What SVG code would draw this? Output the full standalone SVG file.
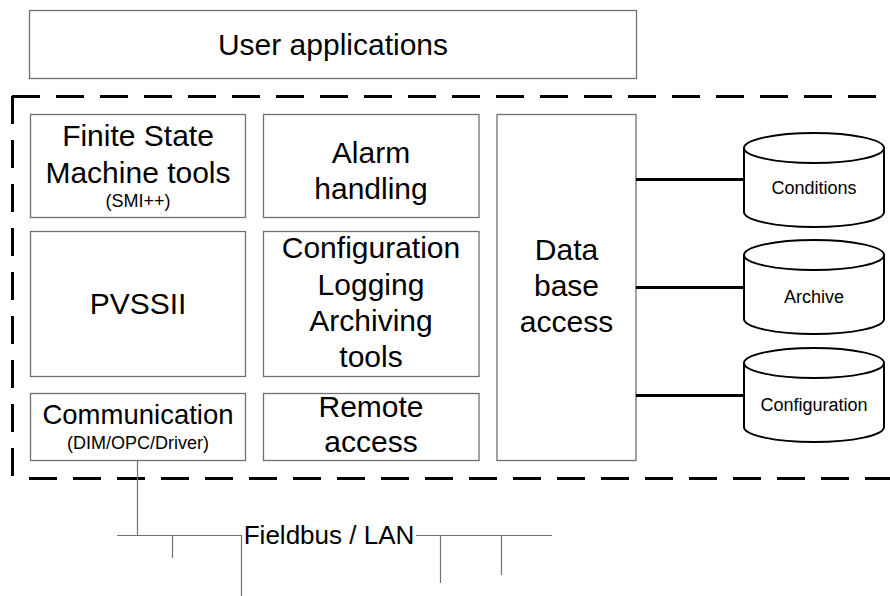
<svg xmlns="http://www.w3.org/2000/svg" width="890" height="596" viewBox="0 0 890 596">
<style>
  .box { fill: #ffffff; stroke: #707070; stroke-width: 1.3; }
  .t { font-family: "Liberation Sans", Arial, sans-serif; font-size: 30px; fill: #000; text-anchor: middle; }
  .s { font-family: "Liberation Sans", Arial, sans-serif; font-size: 18px; fill: #000; text-anchor: middle; }
  .db { font-family: "Liberation Sans", Arial, sans-serif; font-size: 18px; fill: #000; text-anchor: middle; }
  .dash { fill: none; stroke: #000; stroke-width: 3; stroke-dasharray: 28 16; }
  .cyl { fill: #ffffff; stroke: #000; stroke-width: 2; }
  .thick { stroke: #000; stroke-width: 3; fill: none; }
  .bus { stroke: #707070; stroke-width: 1.2; fill: none; }
</style>
<rect width="890" height="596" fill="#ffffff"/>

<g id="user-applications">
  <rect class="box" x="29.5" y="10.5" width="607" height="68"/>
  <text class="t" x="333" y="55">User applications</text>
</g>

<g id="framework-boundary">
  <line class="dash" x1="12" y1="96.5" x2="892" y2="96.5"/>
  <line class="dash" x1="12.5" y1="96" x2="12.5" y2="480"/>
  <line class="dash" x1="29" y1="478.5" x2="892" y2="478.5"/>
</g>

<g id="fsm">
  <rect class="box" x="30.5" y="114.5" width="215" height="103"/>
  <text class="t" x="138" y="146">Finite State</text>
  <text class="t" x="138" y="183">Machine tools</text>
  <text class="s" x="138" y="207">(SMI++)</text>
</g>

<g id="alarm">
  <rect class="box" x="263.5" y="114.5" width="215.5" height="103"/>
  <text class="t" x="371" y="163">Alarm</text>
  <text class="t" x="371" y="199">handling</text>
</g>

<g id="pvssii">
  <rect class="box" x="30.5" y="231.5" width="215" height="145"/>
  <text class="t" x="138" y="314">PVSSII</text>
</g>

<g id="configuration-tools">
  <rect class="box" x="263.5" y="231.5" width="215.5" height="145"/>
  <text class="t" x="371" y="258">Configuration</text>
  <text class="t" x="371" y="294.5">Logging</text>
  <text class="t" x="371" y="331">Archiving</text>
  <text class="t" x="371" y="367">tools</text>
</g>

<g id="communication">
  <rect class="box" x="30.5" y="393.5" width="215" height="67"/>
  <text class="t" x="138" y="424" style="font-size:27.5px">Communication</text>
  <text class="s" x="138" y="449">(DIM/OPC/Driver)</text>
</g>

<g id="remote-access">
  <rect class="box" x="263.5" y="393.5" width="215.5" height="67"/>
  <text class="t" x="371" y="417">Remote</text>
  <text class="t" x="371" y="452">access</text>
</g>

<g id="database-access">
  <rect class="box" x="497" y="114.5" width="139" height="346"/>
  <text class="t" x="566.5" y="260">Data</text>
  <text class="t" x="566.5" y="296">base</text>
  <text class="t" x="566.5" y="332">access</text>
</g>

<g id="conditions">
  <path class="cyl" d="M744 148 L744 212 A70 15 0 0 0 884 212 L884 148 A70 15 0 0 0 744 148 Z"/>
  <path class="cyl" d="M744 148 A70 15 0 0 0 884 148" style="fill:none"/>
  <text class="db" x="814" y="194">Conditions</text>
</g>

<g id="archive">
  <path class="cyl" d="M744 255 L744 319 A70 15 0 0 0 884 319 L884 255 A70 15 0 0 0 744 255 Z"/>
  <path class="cyl" d="M744 255 A70 15 0 0 0 884 255" style="fill:none"/>
  <text class="db" x="814" y="303">Archive</text>
</g>

<g id="configuration-db">
  <path class="cyl" d="M744 363 L744 427 A70 15 0 0 0 884 427 L884 363 A70 15 0 0 0 744 363 Z"/>
  <path class="cyl" d="M744 363 A70 15 0 0 0 884 363" style="fill:none"/>
  <text class="db" x="814" y="411">Configuration</text>
</g>

<g id="fieldbus">
  <text class="t" x="329" y="544" style="font-size:26px">Fieldbus / LAN</text>
</g>

<g id="connectors">
  <line class="thick" x1="636" y1="179.5" x2="744" y2="179.5"/>
  <line class="thick" x1="636" y1="287.5" x2="744" y2="287.5"/>
  <line class="thick" x1="636" y1="395.5" x2="744" y2="395.5"/>
  <line class="bus" x1="137.5" y1="460" x2="137.5" y2="535"/>
  <line class="bus" x1="117" y1="535.5" x2="242" y2="535.5"/>
  <line class="bus" x1="416" y1="535.5" x2="552" y2="535.5"/>
  <line class="bus" x1="172.5" y1="535" x2="172.5" y2="558"/>
  <line class="bus" x1="241.5" y1="535" x2="241.5" y2="596"/>
  <line class="bus" x1="440.5" y1="535" x2="440.5" y2="583"/>
  <line class="bus" x1="501.5" y1="535" x2="501.5" y2="575"/>
</g>
</svg>
